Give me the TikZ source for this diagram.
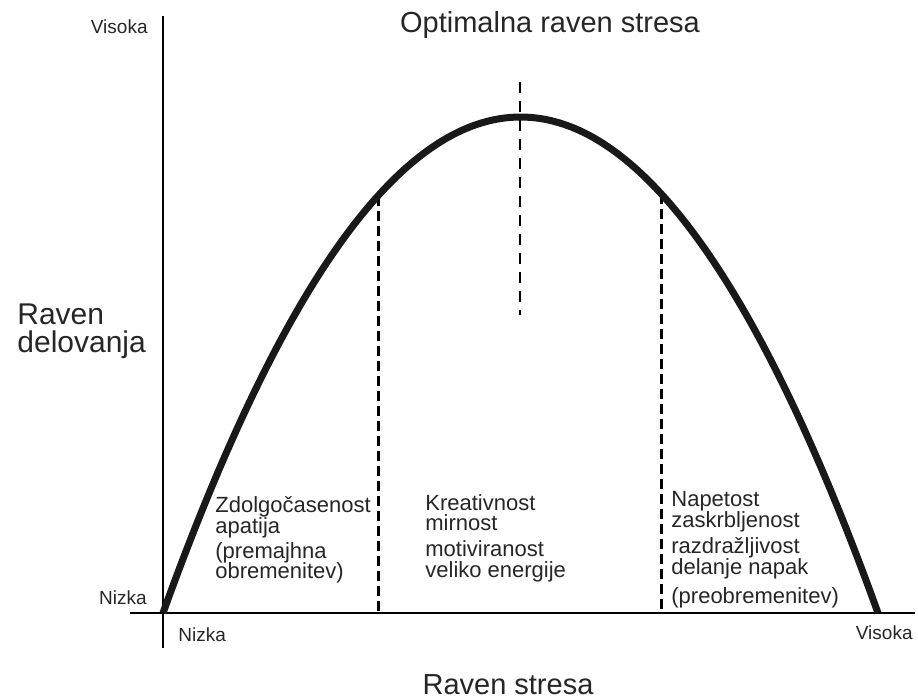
\documentclass[tikz,border=0pt]{standalone}
\usepackage{fontspec}
\setmainfont{Liberation Sans}

\tikzset{
		axis/.style={black, line width=1pt},
		curve/.style={black!90, line width=3.5pt},
		bound/.style={black, line width=1.5pt, dash pattern=on 5pt off 2.5pt},
		optimum/.style={black, line width=1pt, dash pattern=on 5.5pt off 4pt},
		small/.style={inner sep=0pt, text=black!85, font=\fontsize{9.5}{11}\selectfont},
		zone/.style={inner sep=0pt, anchor=north west, align=left, text=black!85, font=\fontsize{11}{10.3}\selectfont},
		big/.style={inner sep=0pt, text=black!85, font=\fontsize{14.5}{14}\selectfont}
	}

\begin{document}
\begin{tikzpicture}[x=0.5pt, y=-0.5pt]

\useasboundingbox (0,0) rectangle (918,699);

\coordinate (ytop) at (163,16);
\coordinate (ybot) at (163,648);
\coordinate (xleft) at (130,613);
\coordinate (xright) at (915,613);

\coordinate (start) at (163,613);
\coordinate (finish) at (878,613);
\coordinate (peaktop) at (520,82);
\coordinate (peaklow) at (520,315);
\coordinate (curveL) at (378,196);
\coordinate (baseL) at (378,613);
\coordinate (curveR) at (661,194);
\coordinate (baseR) at (661,613);

\draw [axis] (ytop) -- (ybot);
\draw [axis] (xleft) -- (xright);

\draw [bound] (curveL) -- (baseL);
\draw [bound] (curveR) -- (baseR);

\draw [curve] (start) .. controls (401.3,-48.3) and (639.7,-48.3) .. (finish);

\draw [optimum] (peaktop) -- (peaklow);

\node (title) at (550,33) [big, anchor=base] {Optimalna raven stresa};
\node (ylabel) at (17,303) [inner sep=0pt, anchor=north west, align=left, text=black!85, font=\fontsize{15}{14}\selectfont] {Raven\\delovanja};
\node (xlabel) at (508,695) [big, anchor=base] {Raven stresa};

\node (yhigh) at (148,34) [small, anchor=base east] {Visoka};
\node (ylow) at (147,605) [small, anchor=base east] {Nizka};
\node (xlow) at (178,642) [small, anchor=base west] {Nizka};
\node (xhigh) at (913,640) [small, anchor=base east] {Visoka};

\node (boredom) at (215,496) [zone] {Zdolgočasenost\\apatija\\[2.25pt](premajhna\\obremenitev)};
\node (creative) at (425,494) [zone] {Kreativnost\\mirnost\\[2.5pt]motiviranost\\veliko energije};
\node (tension) at (671,491) [zone] {Napetost\\zaskrbljenost\\[3pt]razdražljivost\\delanje napak\\[4.5pt](preobremenitev)};

\end{tikzpicture}
\end{document}
